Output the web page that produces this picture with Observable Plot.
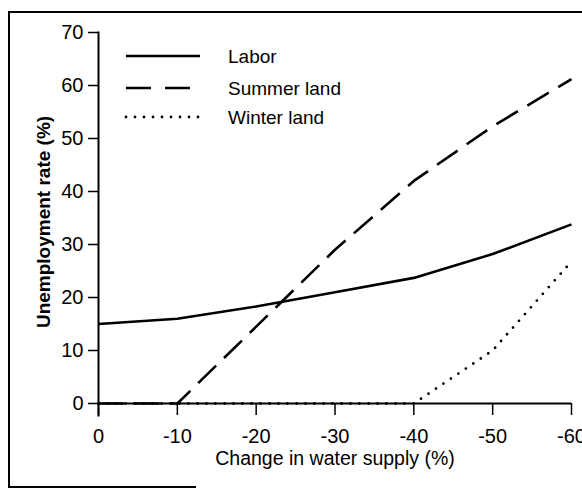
<!DOCTYPE html>
<html>
<head>
<meta charset="utf-8">
<script src="https://cdn.jsdelivr.net/npm/d3@7"></script>
<script src="https://cdn.jsdelivr.net/npm/@observablehq/plot@0.6"></script>
<style>
  html, body { margin: 0; padding: 0; background: #fff; overflow: hidden; }
  #wrap { position: relative; width: 582px; height: 489px; overflow: hidden; }
  #wrap svg { position: absolute; left: 0; top: 0; overflow: hidden; }
  .border-top { position: absolute; left: 8px; top: 11px; width: 600px; height: 0; border-top: 2.5px solid #000; }
  .border-left { position: absolute; left: 8px; top: 11px; width: 0; height: 477px; border-left: 2.5px solid #000; }
  .border-bottom { position: absolute; left: 8px; top: 486px; width: 188px; height: 0; border-top: 2.5px solid #000; }
</style>
</head>
<body>
<div id="wrap"></div>
<script>
// Data
const waterChange = [0, -10, -20, -30, -40, -50, -60];
const labor       = [15, 16, 18.3, 21, 23.7, 28.2, 33.8];
const summerLand  = [0, 0, 14.5, 29, 42, 52.3, 61.2];
const winterLand  = [0, 0, 0, 0, 0, 10, 26.8];
const seriesNames = ["Labor", "Summer land", "Winter land"];
const xTicks = [0, -10, -20, -30, -40, -50, -60];
const yTicks = [0, 10, 20, 30, 40, 50, 60, 70];
const xLabel = "Change in water supply (%)";
const yLabel = "Unemployment rate (%)";

const styles = {
  "Labor":       { strokeWidth: 2.6, strokeDasharray: null, strokeLinecap: "butt", legendLen: 74 },
  "Summer land": { strokeWidth: 2.6, strokeDasharray: "25,11", legendDash: "25,14", strokeLinecap: "butt", legendLen: 64 },
  "Winter land": { strokeWidth: 2.8, strokeDasharray: "0,9", strokeLinecap: "round", legendLen: 74 }
};

const table = [];
[labor, summerLand, winterLand].forEach((vals, i) => {
  vals.forEach((v, j) => table.push({series: seriesNames[i], x: waterChange[j], y: v}));
});

const font = "'Liberation Sans', Arial, Helvetica, sans-serif";

const lineMarks = seriesNames.map(name => Plot.line(table.filter(d => d.series === name), {
  x: "x", y: "y", stroke: "#000",
  strokeWidth: styles[name].strokeWidth,
  strokeDasharray: styles[name].strokeDasharray,
  strokeLinecap: styles[name].strokeLinecap,
  clip: false
}));

const chart = Plot.plot({
  width: 582,
  height: 489,
  marginLeft: 98,
  marginRight: 11,
  marginTop: 32,
  marginBottom: 86,
  style: { fontFamily: font, background: "transparent", color: "#000" },
  x: { domain: [0, -60] },
  y: { domain: [0, 70] },
  marks: [
    Plot.frame({ anchor: "left", stroke: "#000", strokeWidth: 2, insetBottom: -12 }),
    Plot.ruleY([0], { stroke: "#000", strokeWidth: 2 }),
    Plot.axisY({ ticks: yTicks, tickSize: 10, tickPadding: 5, fontSize: 20, strokeWidth: 1.5, label: null, tickFormat: d => String(d) }),
    Plot.axisX({ ticks: xTicks, tickSize: 12, tickPadding: 13, fontSize: 20, strokeWidth: 1.5, label: null, tickFormat: d => String(d) }),
    ...lineMarks,
    Plot.text([yLabel], { frameAnchor: "left", textAnchor: "middle", rotate: -90, dx: -55, dy: 4, fontSize: 19, fontWeight: "bold", fill: "#000" }),
    Plot.text([xLabel], { frameAnchor: "bottom", textAnchor: "middle", lineAnchor: "middle", dy: 55, fontSize: 19.5, fill: "#000" })
  ]
});

const wrap = document.getElementById("wrap");
wrap.appendChild(chart);

// Legend overlay
const legend = d3.select(wrap).append("svg")
  .attr("width", 582).attr("height", 489)
  .style("position", "absolute").style("left", "0px").style("top", "0px")
  .style("pointer-events", "none");
const rowY = [56, 88, 117];
seriesNames.forEach((name, i) => {
  const s = styles[name];
  legend.append("line")
    .attr("x1", 126).attr("x2", 126 + s.legendLen).attr("y1", rowY[i]).attr("y2", rowY[i])
    .attr("stroke", "#000").attr("stroke-width", s.strokeWidth)
    .attr("stroke-dasharray", s.legendDash || s.strokeDasharray)
    .attr("stroke-linecap", s.strokeLinecap);
  legend.append("text")
    .attr("x", 228).attr("y", rowY[i]).attr("dy", "0.35em")
    .attr("font-family", font).attr("font-size", 19)
    .text(name);
});

["border-top", "border-left", "border-bottom"].forEach(c => {
  const d = document.createElement("div"); d.className = c; wrap.appendChild(d);
});
</script>
</body>
</html>
